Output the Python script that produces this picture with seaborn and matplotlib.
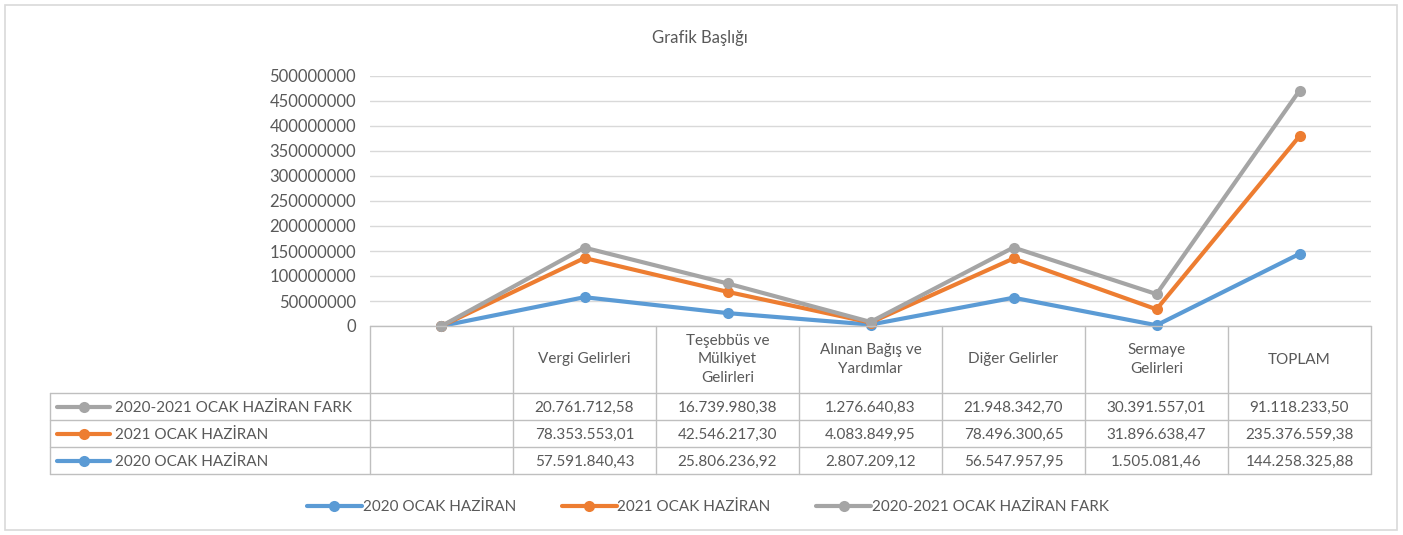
import textwrap
import numpy as np
import pandas as pd
import matplotlib
matplotlib.use("Agg")
import matplotlib.pyplot as plt
import matplotlib.transforms as mtransforms
from matplotlib.lines import Line2D
from matplotlib.patches import Rectangle
import seaborn as sns

# --- DATEN ---
categories = ["", "Vergi Gelirleri", "Teşebbüs ve Mülkiyet Gelirleri",
              "Alınan Bağış ve Yardımlar", "Diğer Gelirler", "Sermaye Gelirleri", "TOPLAM"]
series_names = ["2020 OCAK HAZİRAN", "2021 OCAK HAZİRAN", "2020-2021 OCAK HAZİRAN FARK"]
values_2020 = [np.nan, 57591840.43, 25806236.92, 2807209.12, 56547957.95, 1505081.46, 144258325.88]
values_2021 = [np.nan, 78353553.01, 42546217.30, 4083849.95, 78496300.65, 31896638.47, 235376559.38]
values_fark = [np.nan, 20761712.58, 16739980.38, 1276640.83, 21948342.70, 30391557.01, 91118233.50]
y_ticks = list(range(0, 500000001, 50000000))

colors = ["#5B9BD5", "#ED7D31", "#A5A5A5"]
text_color = "#595959"
border_color = "#BFBFBF"
W, H = 1403, 535
FS = 11


def tr_number(v):
    if np.isnan(v):
        return ""
    s = f"{v:,.2f}"
    return s.replace(",", "X").replace(".", ",").replace("X", ".")


def fy(y_px):
    # Pixel von oben -> Figure-Koordinate
    return 1 - y_px / H


# gestapelte Linien (wie Excel "Gestapelte Linie")
raw = np.array([values_2020, values_2021, values_fark])
stacked = np.cumsum(np.nan_to_num(raw), axis=0)

rows = []
for s_idx, name in enumerate(series_names):
    for c_idx in range(len(categories)):
        rows.append({"pos": c_idx, "Seri": name, "Deger": stacked[s_idx, c_idx]})
df = pd.DataFrame(rows)

sns.set_theme(style="white")
plt.rcParams["font.family"] = ["Lato", "DejaVu Sans"]

fig = plt.figure(figsize=(W / 100, H / 100), dpi=100)
fig.patches.append(Rectangle((5 / W, fy(530)), 1392 / W, 525 / H, transform=fig.transFigure,
                             fill=False, edgecolor="#D9D9D9", linewidth=1.2))

ax = fig.add_axes([370 / W, fy(326), 1001 / W, 250 / H])
sns.lineplot(data=df, x="pos", y="Deger", hue="Seri", hue_order=series_names,
             palette=colors, marker="o", markersize=8, markeredgewidth=0,
             linewidth=3, legend=False, ax=ax)
for ln in ax.lines:
    ln.set_clip_on(False)
    ln.set_solid_capstyle("round")

ax.set_xlim(-0.5, len(categories) - 0.5)
ax.set_ylim(0, y_ticks[-1])
ax.set_yticks(y_ticks)
ax.set_yticklabels([str(t) for t in y_ticks], fontsize=FS + 1, color=text_color)
ax.tick_params(axis="y", length=0, pad=10)
ax.set_xticks([])
ax.set_xlabel("")
ax.set_ylabel("")
ax.grid(axis="y", color="#D9D9D9", linewidth=1)
for sp in ax.spines.values():
    sp.set_visible(False)

# --- TABELLE ---
blend = mtransforms.blended_transform_factory(ax.transData, fig.transFigure)
row_edges = [326, 393, 420, 447, 474]
n = len(categories)
table_left = 50 / W

# senkrechte Linien
for b in np.arange(n + 1) - 0.5:
    ax.add_line(Line2D([b, b], [fy(326), fy(474)], transform=blend, color=border_color,
                       linewidth=1, clip_on=False))
fig.add_artist(Line2D([table_left, table_left], [fy(393), fy(474)], color=border_color, linewidth=1))
# waagerechte Linien
ax.add_line(Line2D([-0.5, n - 0.5], [fy(326), fy(326)], transform=blend, color=border_color,
                   linewidth=1, clip_on=False))
for y in row_edges[1:]:
    fig.add_artist(Line2D([table_left, ax.get_position().x1], [fy(y), fy(y)],
                          color=border_color, linewidth=1))

# Kopfzeile
for i, cat in enumerate(categories):
    ax.text(i, fy((326 + 393) / 2), textwrap.fill(cat, 15), transform=blend, ha="center",
            va="center", fontsize=FS, color=text_color, linespacing=1.4)

# Datenzeilen (Fark oben, 2020 unten)
table_order = [2, 1, 0]
for r, s_idx in enumerate(table_order):
    yc = fy((row_edges[r + 1] + row_edges[r + 2]) / 2)
    fig.add_artist(Line2D([57 / W, 83.5 / W, 110 / W], [yc, yc, yc], color=colors[s_idx],
                          linewidth=3, marker="o", markersize=8, markeredgewidth=0,
                          markevery=[1], solid_capstyle="round"))
    fig.text(115 / W, yc, series_names[s_idx], ha="left", va="center_baseline", fontsize=FS,
             color=text_color)
    for i in range(n):
        ax.text(i, yc, tr_number(raw[s_idx, i]), transform=blend, ha="center",
                va="center_baseline", fontsize=FS, color=text_color)

# Titel
fig.text(700 / W, fy(38), "Grafik Başlığı", ha="center", va="center", fontsize=FS + 1,
         color=text_color)

# Legende
handles = [Line2D([0], [0], color=c, linewidth=3, marker="o", markersize=8,
                  markeredgewidth=0) for c in colors]
fig.legend(handles, series_names, loc="center", bbox_to_anchor=(708 / W, fy(507)), ncol=3,
           frameon=False, fontsize=FS, labelcolor=text_color, handlelength=3.6,
           handletextpad=0.05, columnspacing=3.0)

fig.savefig("out.png", dpi=100)
